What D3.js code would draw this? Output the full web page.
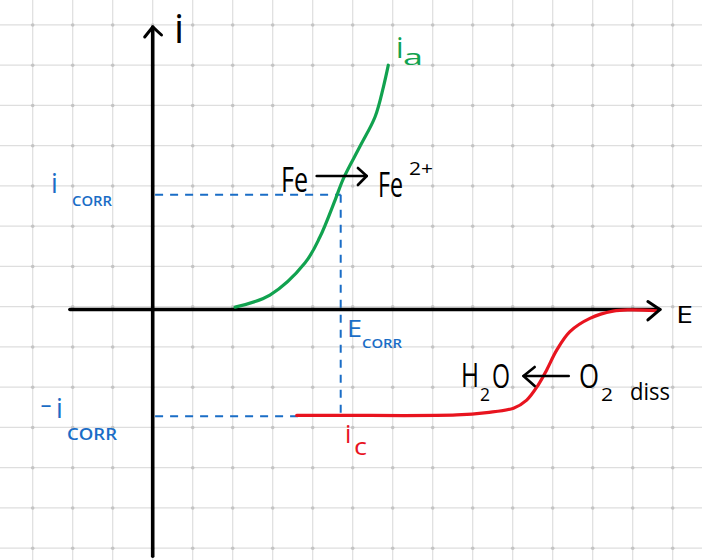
<!DOCTYPE html>
<html><head><meta charset="utf-8">
<script src="https://cdn.jsdelivr.net/npm/d3@7"></script>
<style>html,body{margin:0;padding:0;background:#fff;} svg{display:block;}</style>
</head><body>
<div id="chart"></div>
<script>
// ---- data (E in grid units, i in grid units) ----
const anodicE = [2.06, 2.93, 3.81, 4.18, 4.56, 4.77, 5.18, 5.56, 5.77, 5.89];
const anodicI = [-0.01, 0.29, 1.09, 1.73, 2.65, 3.19, 3.98, 4.72, 5.47, 6.00];
const cathodicE = [3.6, 4.68, 7.6, 8.35, 9.02, 9.35, 9.64, 9.85, 10.1, 10.43, 10.93, 11.51, 11.93, 12.6];
const cathodicI = [-2.70, -2.70, -2.69, -2.63, -2.52, -2.32, -1.94, -1.57, -1.08, -0.62, -0.29, -0.11, -0.08, -0.10];
const iCorr = 2.78;
const eCorr = 4.7;
const gridE = d3.range(-3, 14);
const gridI = d3.range(-6, 8);

const W = 702, H = 560;
const x = d3.scaleLinear().domain([0, 1]).range([152.7, 192.7]);
const y = d3.scaleLinear().domain([0, 1]).range([306.7, 266.45]);
const axisI = -0.07;

const svg = d3.select("#chart").append("svg").attr("width", W).attr("height", H);
const FONT = "'Open Sans', 'DejaVu Sans', sans-serif";

// grid
const g = svg.append("g");
g.selectAll("line.v").data(gridE).join("line")
  .attr("x1", d => x(d)).attr("x2", d => x(d)).attr("y1", 0).attr("y2", H)
  .attr("stroke", "#dedede").attr("stroke-width", 1.2);
g.selectAll("line.h").data(gridI).join("line")
  .attr("y1", d => y(d)).attr("y2", d => y(d)).attr("x1", 0).attr("x2", W)
  .attr("stroke", "#dedede").attr("stroke-width", 1.2);
const pts = [];
gridE.forEach(e => gridI.forEach(i => pts.push([e, i])));
g.selectAll("circle").data(pts).join("circle")
  .attr("cx", d => x(d[0])).attr("cy", d => y(d[1])).attr("r", 1.8).attr("fill", "#c4c4c4");

// blue dashed guides
const blue = "#1a6dc6";
const dash = {stroke: blue, "stroke-width": 2, "stroke-dasharray": "8,7", fill: "none"};
function addLine(x1, y1, x2, y2, attrs) {
  const l = svg.append("line").attr("x1", x1).attr("y1", y1).attr("x2", x2).attr("y2", y2);
  Object.entries(attrs).forEach(([k, v]) => l.attr(k, v));
  return l;
}
addLine(x(0.06), y(iCorr), x(eCorr), y(iCorr), dash);
addLine(x(eCorr), y(iCorr), x(eCorr), y(-iCorr + 0.02), dash);
addLine(x(0.06), y(-iCorr + 0.06), x(3.7), y(-iCorr + 0.06), dash);

// axes
const ax = {stroke: "#000", "stroke-width": 3.6, "stroke-linecap": "round", fill: "none"};
addLine(x(0), y(-6.2), x(0), y(6.95), ax);
addLine(x(-2.07), y(axisI), x(12.68), y(axisI), ax);
const arrow = d3.line();
svg.append("path").attr("d", arrow([[x(-0.2), y(6.7)], [x(0), y(6.95)], [x(0.22), y(6.75)]]))
  .attr("stroke", "#000").attr("stroke-width", 3).attr("fill", "none").attr("stroke-linecap", "round").attr("stroke-linejoin", "round");

// curves
const line = d3.line().x(d => x(d[0])).y(d => y(d[1])).curve(d3.curveCatmullRom.alpha(0.5));
svg.append("path").attr("d", line(anodicE.map((e, k) => [e, anodicI[k]])))
  .attr("stroke", "#11a24f").attr("stroke-width", 3.2).attr("fill", "none").attr("stroke-linecap", "round");
svg.append("path").attr("d", line(cathodicE.map((e, k) => [e, cathodicI[k]])))
  .attr("stroke", "#e8141f").attr("stroke-width", 3.2).attr("fill", "none").attr("stroke-linecap", "round");

// x-axis arrow head (drawn over red)
svg.append("path").attr("d", arrow([[x(12.38), y(0.13)], [x(12.68), y(axisI)], [x(12.38), y(-0.33)]]))
  .attr("stroke", "#000").attr("stroke-width", 3).attr("fill", "none").attr("stroke-linecap", "round").attr("stroke-linejoin", "round");

// reaction arrows
const ra = {stroke: "#000", "stroke-width": 2.6, "stroke-linecap": "round", fill: "none"};
addLine(x(4.1), 176, x(5.35), 176, ra);
svg.append("path").attr("d", arrow([[x(5.13), 168], [x(5.35), 176], [x(5.13), 185]]))
  .attr("stroke", "#000").attr("stroke-width", 2.6).attr("fill", "none").attr("stroke-linecap", "round").attr("stroke-linejoin", "round");
addLine(x(10.4), 376, x(9.27), 376, ra);
svg.append("path").attr("d", arrow([[x(9.55), 367], [x(9.27), 376], [x(9.55), 386]]))
  .attr("stroke", "#000").attr("stroke-width", 2.6).attr("fill", "none").attr("stroke-linecap", "round").attr("stroke-linejoin", "round");

// texts
function txt(s, left, base, size, color, width, weight) {
  const t = svg.append("text").attr("x", left).attr("y", base).text(s)
    .attr("font-family", FONT).attr("font-size", size).attr("fill", color)
    .attr("font-weight", weight || 500);
  if (width) t.attr("textLength", width).attr("lengthAdjust", "spacingAndGlyphs");
  return t;
}
txt("i", 174, 43, 40, "#000");
txt("E", 676, 323, 23, "#000", 17);
txt("Fe", 281, 192, 34, "#000", 27);
txt("Fe", 378, 197, 34, "#000", 25);
txt("2+", 409, 175, 18, "#000", 24);
txt("i", 396, 58, 30, "#11a24f");
txt("a", 403, 65, 22, "#11a24f", 20);
txt("i", 51, 193, 27, blue);
txt("CORR", 72, 206, 14, blue, 40, 600);
txt("-", 40, 413, 26, blue, 12);
txt("i", 56, 418, 27, blue);
txt("CORR", 67, 440, 16, blue, 50, 600);
txt("E", 347, 337, 24, blue, 15);
txt("CORR", 362, 348, 13, blue, 40, 600);
txt("i", 345, 443, 25, "#e8141f");
txt("c", 354, 455, 24, "#e8141f", 13);
txt("H", 461, 387, 32, "#000", 18);
txt("2", 480, 401, 18, "#000", 10);
txt("O", 492, 388, 32, "#000", 18);
txt("O", 579, 388, 32, "#000", 20);
txt("2", 601, 401, 18, "#000", 12);
txt("diss", 630, 400, 24, "#000", 40);
</script>
</body></html>
